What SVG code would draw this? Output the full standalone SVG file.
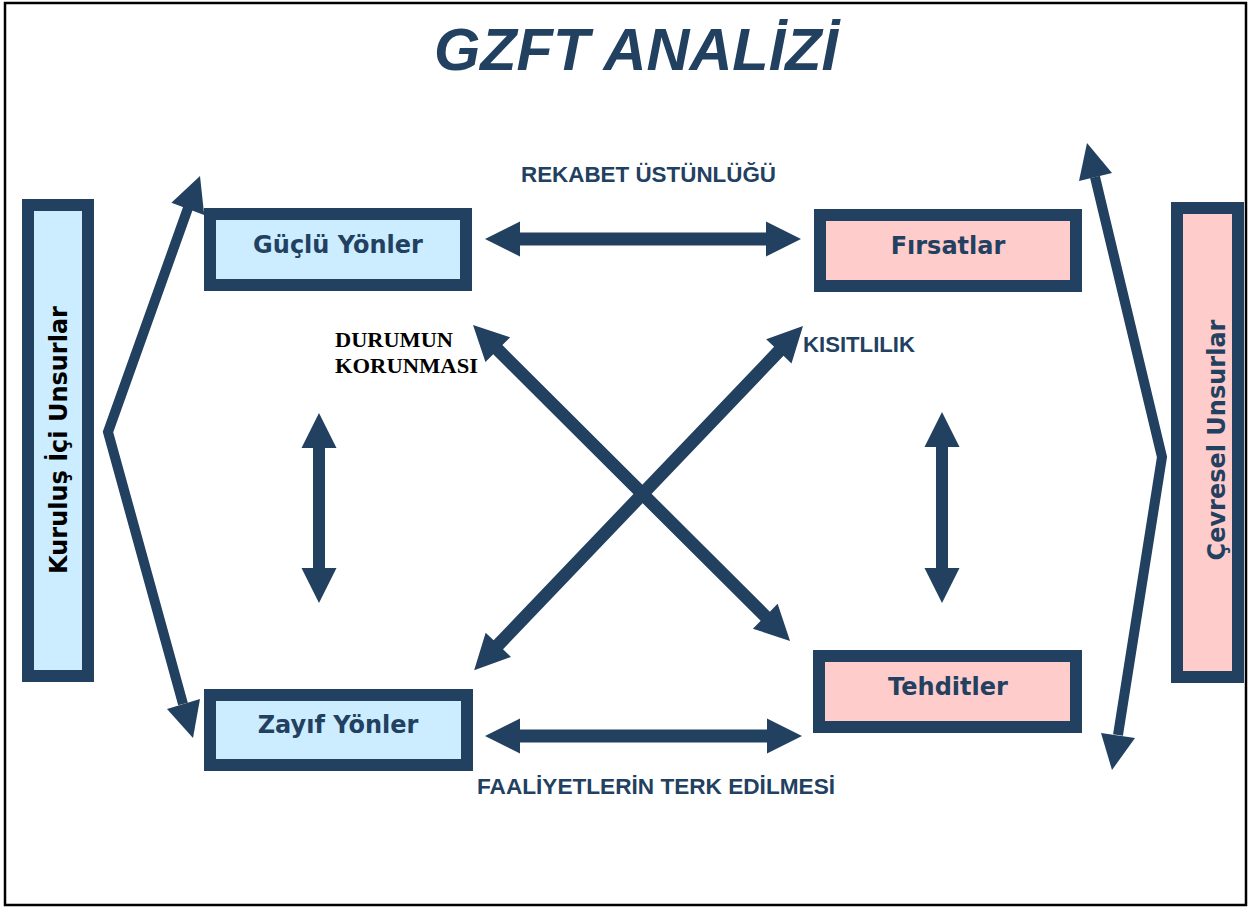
<svg xmlns="http://www.w3.org/2000/svg" width="1252" height="909" viewBox="0 0 1252 909">
<style>
.box{stroke:#22405f;stroke-width:12}
.blue{fill:#ccecff}
.pink{fill:#ffcccc}
.bt{font-family:"DejaVu Sans",Verdana,sans-serif;font-weight:bold;font-size:24px;fill:#22405f;text-anchor:middle}
.lbl{font-family:"Liberation Sans",Arial,sans-serif;font-weight:bold;font-size:22px;fill:#22405f}
.arr{fill:#22405f}
.chev{fill:none;stroke:#22405f;stroke-width:10;stroke-linejoin:miter;stroke-miterlimit:10}
</style>
<rect x="0" y="0" width="1252" height="909" fill="#ffffff"/>
<rect x="5" y="3" width="1241" height="902" fill="none" stroke="#000000" stroke-width="2.5"/>
<text x="636" y="70" font-family="Liberation Sans,Arial,sans-serif" font-weight="bold" font-style="italic" font-size="60" fill="#22405f" text-anchor="middle" textLength="404" lengthAdjust="spacingAndGlyphs">GZFT ANALİZİ</text>

<g id="kurulus">
<rect class="box blue" x="28" y="205" width="60" height="471"/>
<text class="bt" style="fill:#000000" transform="translate(67,440) rotate(-90)">Kuruluş İçi Unsurlar</text>
</g>
<g id="cevresel">
<rect class="box pink" x="1177" y="208" width="61" height="469"/>
<text class="bt" transform="translate(1225,440) rotate(-90)">Çevresel Unsurlar</text>
</g>
<g id="guclu">
<rect class="box blue" x="210" y="214" width="256" height="71"/>
<text class="bt" x="338" y="253">Güçlü Yönler</text>
</g>
<g id="firsatlar">
<rect class="box pink" x="820" y="215" width="256" height="71"/>
<text class="bt" x="948" y="254">Fırsatlar</text>
</g>
<g id="tehditler">
<rect class="box pink" x="819" y="656" width="257" height="71"/>
<text class="bt" x="948" y="695">Tehditler</text>
</g>
<g id="zayif">
<rect class="box blue" x="210" y="695" width="257" height="70"/>
<text class="bt" x="338" y="733">Zayıf Yönler</text>
</g>

<g id="connectors">
<polyline class="chev" points="188,208 108,432 183,704"/>
<polygon class="arr" points="200,176 204.2,214.9 171.4,202.7"/>
<polygon class="arr" points="193,738 200,699 167,709"/>
<polyline class="chev" points="1095,177 1162,457 1118,735"/>
<polygon class="arr" points="1087,143 1112,173 1079,181"/>
<polygon class="arr" points="1112,770 1135,738 1101,733"/>

<polygon class="arr" points="485,239 520,221.5 520,232.5 766,232.5 766,221.5 801,239 766,256.5 766,245.5 520,245.5 520,256.5"/>
<polygon class="arr" points="485,736 520,718.5 520,729.5 767,729.5 767,718.5 802,736 767,753.5 767,742.5 520,742.5 520,753.5"/>
<polygon class="arr" points="319,413 336.5,448 325,448 325,568 336.5,568 319,603 301.5,568 313,568 313,448 301.5,448"/>
<polygon class="arr" points="942,412 959.5,447 948,447 948,568 959.5,568 942,603 924.5,568 936,568 936,447 924.5,447"/>
<polygon class="arr" transform="translate(473,325) rotate(44.9)" points="0,0 35,-17.5 35,-6.5 412.6,-6.5 412.6,-17.5 447.6,0 412.6,17.5 412.6,6.5 35,6.5 35,17.5"/>
<polygon class="arr" transform="translate(803,326) rotate(133.7)" points="0,0 35,-17.5 35,-6.5 441,-6.5 441,-17.5 476,0 441,17.5 441,6.5 35,6.5 35,17.5"/>
</g>

<g id="labels">
<text class="lbl" x="521" y="182" textLength="255" lengthAdjust="spacingAndGlyphs">REKABET ÜSTÜNLÜĞÜ</text>
<text class="lbl" x="803" y="352" textLength="112" lengthAdjust="spacingAndGlyphs">KISITLILIK</text>
<text class="lbl" x="477" y="794" textLength="358" lengthAdjust="spacingAndGlyphs">FAALİYETLERİN TERK EDİLMESİ</text>
<text x="335" y="347" font-family="Liberation Serif,'Times New Roman',serif" font-weight="bold" font-size="21" fill="#000000" textLength="118" lengthAdjust="spacingAndGlyphs">DURUMUN</text>
<text x="335" y="373" font-family="Liberation Serif,'Times New Roman',serif" font-weight="bold" font-size="21" fill="#000000" textLength="143" lengthAdjust="spacingAndGlyphs">KORUNMASI</text>
</g>
</svg>
